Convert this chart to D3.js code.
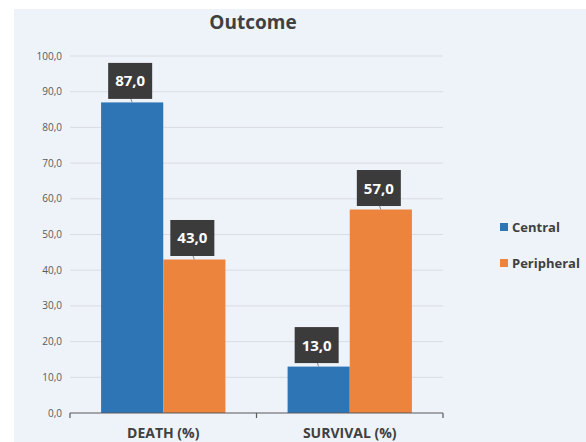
<!DOCTYPE html>
<html lang="en">
<head>
    <meta charset="utf-8" />
    <title>Outcome</title>
    <script src="https://d3js.org/d3.v7.min.js"></script>
    <style>
        body { margin: 0; background: #fff; }
        text { font-family: "Open Sans", "Noto Sans", sans-serif; }
    </style>
</head>
<body>
    <script>
        var w = 586;
        var h = 442;

        // data
        var categories = ["DEATH (%)", "SURVIVAL (%)"];
        var seriesNames = ["Central", "Peripheral"];
        var central = [87.0, 13.0];
        var peripheral = [43.0, 57.0];
        var yTicks = [0, 10, 20, 30, 40, 50, 60, 70, 80, 90, 100];
        var colors = ["#2e75b6", "#ed843e"];

        // plot area edges ("top" is reserved on window, so use plot* names)
        var plotLeft = 70, plotRight = 443, plotTop = 56, plotBottom = 413;

        var fmt = function (v) { return v.toFixed(1).replace(".", ","); };

        var svg = d3.select("body").append("svg")
            .attr("width", w)
            .attr("height", h);

        // chart area background
        svg.append("rect")
            .attr("x", 14).attr("y", 9)
            .attr("width", w - 14).attr("height", h - 9)
            .attr("fill", "#eef3fa");

        var x0 = d3.scaleBand().domain(categories).range([plotLeft, plotRight]).paddingInner(0).paddingOuter(0);
        var x1 = d3.scaleBand().domain(seriesNames).range([0, x0.bandwidth()]).paddingOuter(0.5);
        var y = d3.scaleLinear().domain([0, 100]).range([plotBottom, plotTop]);

        // gridlines
        svg.selectAll(".grid")
            .data(yTicks.slice(1))
            .enter().append("line")
            .attr("x1", plotLeft).attr("x2", plotRight)
            .attr("y1", function (d) { return y(d); })
            .attr("y2", function (d) { return y(d); })
            .attr("stroke", "#d9dce1")
            .attr("stroke-width", 1);

        // y tick labels
        svg.selectAll(".ylab")
            .data(yTicks)
            .enter().append("text")
            .attr("x", 62)
            .attr("y", function (d) { return y(d) + 3.5; })
            .attr("text-anchor", "end")
            .attr("font-size", "10px")
            .attr("fill", "#595959")
            .text(fmt);

        var rows = [];
        categories.forEach(function (c, i) {
            rows.push({ cat: c, s: seriesNames[0], v: central[i], col: colors[0] });
            rows.push({ cat: c, s: seriesNames[1], v: peripheral[i], col: colors[1] });
        });

        // bars
        svg.selectAll(".bar")
            .data(rows)
            .enter().append("rect")
            .attr("x", function (d) { return x0(d.cat) + x1(d.s); })
            .attr("y", function (d) { return y(d.v); })
            .attr("width", x1.bandwidth())
            .attr("height", function (d) { return plotBottom - y(d.v); })
            .attr("fill", function (d) { return d.col; });

        // x axis line and category boundary ticks
        svg.append("line").attr("x1", plotLeft).attr("x2", plotRight).attr("y1", plotBottom).attr("y2", plotBottom)
            .attr("stroke", "#595959").attr("stroke-width", 1.2);
        var edges = [plotLeft].concat(categories.map(function (c) { return x0(c) + x0.bandwidth(); }));
        svg.selectAll(".xt").data(edges).enter().append("line")
            .attr("x1", function (d) { return d; }).attr("x2", function (d) { return d; })
            .attr("y1", plotBottom).attr("y2", plotBottom + 5)
            .attr("stroke", "#595959").attr("stroke-width", 1.2);

        svg.selectAll(".xlab")
            .data(categories)
            .enter().append("text")
            .attr("x", function (d) { return x0(d) + x0.bandwidth() / 2; })
            .attr("y", 438)
            .attr("text-anchor", "middle")
            .attr("font-size", "14px")
            .attr("font-weight", "bold")
            .attr("fill", "#404040")
            .text(function (d) { return d; });

        // data labels (dark callout boxes)
        var lab = svg.selectAll(".lab")
            .data(rows)
            .enter().append("g")
            .attr("transform", function (d) {
                var cx = x0(d.cat) + x1(d.s) + x1.bandwidth() / 2 - 2;
                return "translate(" + cx + "," + (y(d.v) - 3.5) + ")";
            });
        lab.append("line")
            .attr("x1", 0).attr("x2", 2).attr("y1", -2).attr("y2", 3.5)
            .attr("stroke", "#888").attr("stroke-width", 1);
        lab.append("rect")
            .attr("x", -22).attr("y", -36)
            .attr("width", 44).attr("height", 36)
            .attr("fill", "#3b3b3b");
        lab.append("text")
            .attr("x", 0).attr("y", -12.5)
            .attr("text-anchor", "middle")
            .attr("font-size", "15px")
            .attr("font-weight", "bold")
            .attr("fill", "#fff")
            .text(function (d) { return fmt(d.v); });

        // title
        svg.append("text")
            .attr("x", 253).attr("y", 29)
            .attr("text-anchor", "middle")
            .attr("font-size", "19px")
            .attr("font-weight", "bold")
            .attr("fill", "#404040")
            .text("Outcome");

        // legend
        var leg = svg.selectAll(".leg")
            .data(seriesNames)
            .enter().append("g")
            .attr("transform", function (d, i) { return "translate(500," + (223 + i * 36) + ")"; });
        leg.append("rect").attr("width", 8).attr("height", 8)
            .attr("fill", function (d, i) { return colors[i]; });
        leg.append("text")
            .attr("x", 12).attr("y", 8.5)
            .attr("font-size", "13px")
            .attr("font-weight", "bold")
            .attr("fill", "#404040")
            .text(function (d) { return d; });
    </script>
</body>
</html>
